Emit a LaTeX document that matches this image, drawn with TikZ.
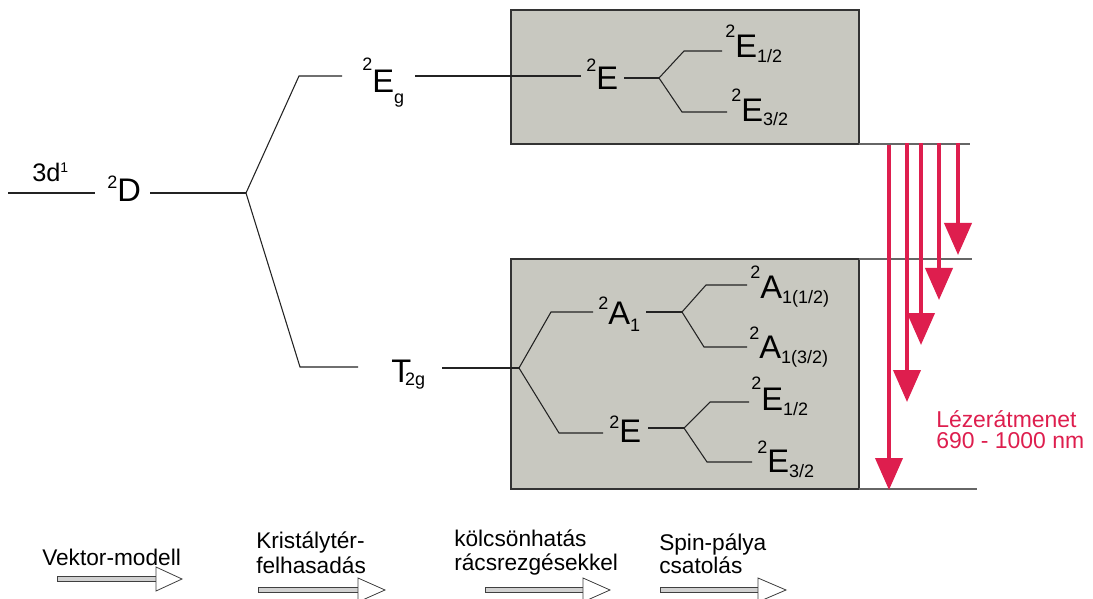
\documentclass[tikz,border=0pt]{standalone}
\usepackage{fontspec}
\setmainfont{Liberation Sans}
\usetikzlibrary{arrows.meta}
\newdimen\px \px=0.75pt
\definecolor{boxfill}{RGB}{200,200,192}
\definecolor{laser}{RGB}{222,30,78}
\definecolor{lvl}{RGB}{35,35,35}
\newcommand{\bigf}{\fontsize{24.5pt}{27pt}\selectfont}
\newcommand{\supf}{\fontsize{13.5pt}{15pt}\selectfont}
\newcommand{\term}[5]{\raisebox{#1\px}{\supf #2}\bigf #3\raisebox{-#4\px}{\supf #5}}
\begin{document}
\begin{tikzpicture}[x=0.75pt,y=-0.75pt,
  lvline/.style={draw=lvl,line width=0.8pt},
  sideline/.style={draw=black!60,line width=0.9pt},
  boxst/.style={fill=boxfill,draw=black!80,line width=0.9pt},
  lab/.style={inner sep=0pt,anchor=base west},
  lasertxt/.style={inner sep=0pt,anchor=base west,text=laser,font=\fontsize{17.2pt}{20pt}\selectfont},
  bottxt/.style={inner sep=0pt,anchor=base west,font=\fontsize{17pt}{19pt}\selectfont},
  laserarr/.style={draw=laser,line width=3pt,-{Triangle[width=20.25pt,length=24pt]}},
  shaft/.style={fill=black!18,draw=black!75,line width=0.6pt},
  head/.style={fill=white,draw=black!75,line width=0.6pt}]
\useasboundingbox (0,0) rectangle (1093,599);
\fill[white] (0,0) rectangle (1093,599);

% boxes
\draw[boxst] (511,10) rectangle (859,144);
\draw[boxst] (511,259) rectangle (859,489);

% side level lines
\coordinate (r1a) at (859,144); \coordinate (r1b) at (970,144);
\coordinate (r2a) at (859,259); \coordinate (r2b) at (972,259);
\coordinate (r3a) at (859,489); \coordinate (r3b) at (977,489);
\draw[sideline] (r1a) -- (r1b);
\draw[sideline] (r2a) -- (r2b);
\draw[sideline] (r3a) -- (r3b);

% labels
\node[lab] (t3d) at (32,182) {\fontsize{19pt}{20pt}\selectfont 3d\raisebox{9\px}{\fontsize{10.5pt}{12pt}\selectfont 1}};
\node[lab] (tD) at (107,202) {\term{13}{2}{D}{0}{}};
\node[lab] (tEg) at (362,93) {\term{22}{2}{E}{11}{g}};
\node[lab] (tT) at (391,382) {\bigf T\kern-6\px\raisebox{-3.5\px}{\supf 2g}};
\node[lab] (tE) at (586,90) {\term{18}{2}{E}{0}{}};
\node[lab] (tE12a) at (725,58) {\term{20}{2}{E}{5}{1/2}};
\node[lab] (tE32a) at (731,122) {\term{20}{2}{E}{4}{3/2}};
\node[lab] (tA1) at (598,325) {\term{15}{2}{A}{7}{1}};
\node[lab] (tA12) at (750,298) {\term{20}{2}{A}{5}{1(1/2)}};
\node[lab] (tA32) at (749,358) {\term{18}{2}{A}{5}{1(3/2)}};
\node[lab] (tEb) at (609,442) {\term{14}{2}{E}{0}{}};
\node[lab] (tE12b) at (751,410) {\term{21}{2}{E}{5}{1/2}};
\node[lab] (tE32b) at (757,472) {\term{19}{2}{E}{5}{3/2}};

% level lines
\coordinate (a0) at (8,193); \coordinate (a1) at (95,193);
\draw[lvline] (a0) -- (a1);
\coordinate (a2) at (150,193); \coordinate (b1) at (246,193);
\draw[lvline] (a2) -- (b1);
\coordinate (u1) at (299,76); \coordinate (u2) at (342,76);
\draw[lvline] (b1) -- (u1) -- (u2);
\coordinate (l1) at (300,367); \coordinate (l2) at (358,367);
\draw[lvline] (b1) -- (l1) -- (l2);
\coordinate (e1) at (415,76); \coordinate (e2) at (581,76);
\draw[lvline] (e1) -- (e2);
\coordinate (f1) at (624,78); \coordinate (b2) at (659,78);
\draw[lvline] (f1) -- (b2);
\coordinate (f2) at (684,51); \coordinate (f3) at (722,51);
\coordinate (f4) at (682,112); \coordinate (f5) at (727,112);
\draw[lvline] (b2) -- (f2) -- (f3);
\draw[lvline] (b2) -- (f4) -- (f5);
\coordinate (g1) at (442,368); \coordinate (b3) at (519,368);
\draw[lvline] (g1) -- (b3);
\coordinate (g2) at (551,312); \coordinate (g3) at (593,312);
\coordinate (g4) at (559,433); \coordinate (g5) at (603,433);
\draw[lvline] (b3) -- (g2) -- (g3);
\draw[lvline] (b3) -- (g4) -- (g5);
\coordinate (h1) at (646,312); \coordinate (b4) at (682,312);
\draw[lvline] (h1) -- (b4);
\coordinate (h2) at (706,285); \coordinate (h3) at (747,285);
\coordinate (h4) at (704,347); \coordinate (h5) at (747,347);
\draw[lvline] (b4) -- (h2) -- (h3);
\draw[lvline] (b4) -- (h4) -- (h5);
\coordinate (k1) at (648,428); \coordinate (b5) at (684,428);
\draw[lvline] (k1) -- (b5);
\coordinate (k2) at (710,402); \coordinate (k3) at (749,402);
\coordinate (k4) at (707,462); \coordinate (k5) at (752,462);
\draw[lvline] (b5) -- (k2) -- (k3);
\draw[lvline] (b5) -- (k4) -- (k5);

% laser arrows
\coordinate (s1) at (889,145); \coordinate (e1t) at (889,490);
\coordinate (s2) at (907,143); \coordinate (e2t) at (907,402);
\coordinate (s3) at (921,143); \coordinate (e3t) at (921,345);
\coordinate (s4) at (939,143); \coordinate (e4t) at (939,300);
\coordinate (s5) at (958,143); \coordinate (e5t) at (958,255);
\draw[laserarr] (s1) -- (e1t);
\draw[laserarr] (s2) -- (e2t);
\draw[laserarr] (s3) -- (e3t);
\draw[laserarr] (s4) -- (e4t);
\draw[laserarr] (s5) -- (e5t);
\node[lasertxt] (lz1) at (936,427) {Lézerátmenet};
\node[lasertxt] (lz2) at (936,448) {690 - 1000 nm};

% bottom legend
\node[bottxt] (v1) at (42,565) {Vektor-modell};
\node[bottxt] (k1t) at (256,548) {Kristálytér-};
\node[bottxt] (k2t) at (256,573) {felhasadás};
\node[bottxt] (c1t) at (454,546) {kölcsönhatás};
\node[bottxt] (c2t) at (454,570) {rácsrezgésekkel};
\node[bottxt] (p1t) at (659,550) {Spin-pálya};
\node[bottxt] (p2t) at (659,573) {csatolás};

\foreach \xa/\xb/\xc/\yy in {57/156/182/579, 258/358/385/590, 485/583/610/590, 660/758/786/590}{
  \draw[shaft] (\xa,\yy-2.5) rectangle (\xb,\yy+2.5);
  \draw[head] (\xb,\yy-12) -- (\xc,\yy) -- (\xb,\yy+12) -- cycle;
}
\end{tikzpicture}
\end{document}
